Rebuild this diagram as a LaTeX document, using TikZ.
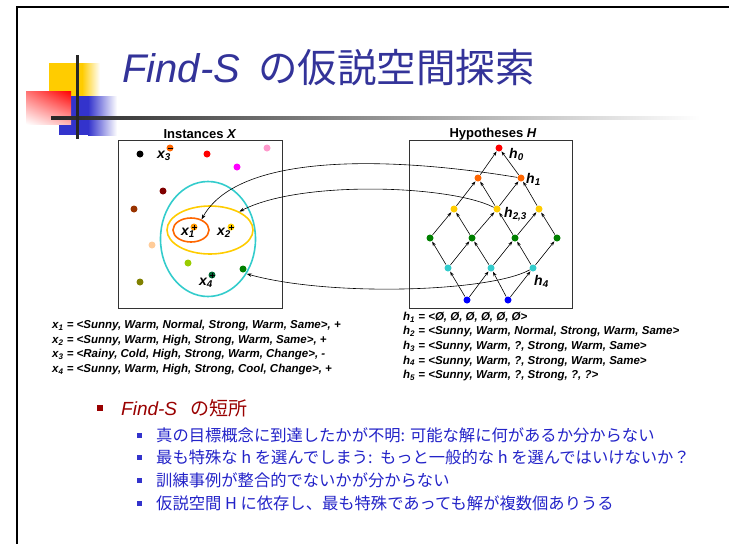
\documentclass[tikz,border=0pt]{standalone}
\usepackage{fontspec}
\setmainfont{Liberation Sans}
\newfontfamily\jp{Noto Sans CJK JP}
\usetikzlibrary{shapes.geometric,arrows.meta,shadings}
\definecolor{titleblue}{HTML}{333399}
\definecolor{subblue}{RGB}{35,35,200}
\definecolor{dred}{HTML}{990000}
\definecolor{decoyel}{HTML}{FFCC00}
\definecolor{decoblu}{HTML}{3333CC}
\definecolor{cRed}{HTML}{FF0000}
\definecolor{cOrange}{HTML}{FF6600}
\definecolor{cYellow}{HTML}{FFCC00}
\definecolor{cGreen}{HTML}{008000}
\definecolor{cCyan}{HTML}{33CCCC}
\definecolor{cBlue}{HTML}{0000FF}
\definecolor{cPink}{HTML}{FF99CC}
\definecolor{cMagenta}{HTML}{FF00FF}
\definecolor{cDarkRed}{HTML}{800000}
\definecolor{cBrown}{HTML}{993300}
\definecolor{cPeach}{HTML}{FFCC99}
\definecolor{cOlive}{HTML}{808000}
\definecolor{cLime}{HTML}{99CC00}
\definecolor{cDkGreen}{HTML}{006633}
\definecolor{cAmber}{HTML}{FF9900}
\begin{document}
\begin{tikzpicture}[x=1pt,y=-1pt,
  dot/.style={circle, inner sep=0pt, minimum size=7pt, draw=none},
  lat/.style={-{Stealth[length=4.5pt,width=3.2pt]}, line width=0.6pt, shorten >=0.5pt, shorten <=0.3pt},
  longarr/.style={-{Stealth[length=5pt,width=3.5pt]}, line width=0.6pt},
  lbl/.style={font=\fontsize{14}{14}\selectfont\bfseries\itshape, inner sep=0pt, anchor=base west},
  listline/.style={font=\fontsize{11.5}{13}\selectfont\bfseries\itshape, inner sep=0pt, anchor=west},
  boxlabel/.style={font=\fontsize{13}{13}\selectfont\bfseries, inner sep=0pt},
  subitem/.style={font=\jp\fontsize{16.3}{18}\selectfont, text=subblue, inner sep=0pt, anchor=west},
  sign/.style={line width=0.9pt, black}
]
\useasboundingbox (0,0) rectangle (729,544);
% slide frame
\draw[line width=2.4pt] (17,544) -- (17,7.2) -- (729,7.2);
% decoration
\fill[decoyel] (49,63) rectangle (82,97);
\shade[left color=decoyel, right color=white] (82,63) rectangle (100,97);
\fill[decoblu] (59,96) rectangle (88,135);
\shade[left color=decoblu, right color=white] (88,96) rectangle (117,135);
\shade[upper left=red!55, upper right=red, lower left=white, lower right=red!30] (26,91) rectangle (71,124);
\shade[left color=black!85, middle color=black!40, right color=white] (51,116.5) rectangle (700,119.5);
\fill[black!85] (75.5,55) rectangle (78.5,139);
% title
\node[anchor=base west, inner sep=0pt, text=titleblue] (title) at (122,82)
  {\fontsize{40}{40}\selectfont\itshape Find-S\upshape\hspace{18pt}{\jp\fontsize{39.5}{40}\selectfont の仮説空間探索}};

% ---------- Instances X ----------
\node[boxlabel] (ilabel) at (200,134) {Instances \textit{X}};
\node[draw=black!80, line width=0.8pt, minimum width=164pt, minimum height=168pt, inner sep=0pt] (ibox) at (200,224) {};
\node[ellipse, draw=cCyan, line width=1.6pt, minimum width=95pt, minimum height=115pt, inner sep=0pt] (ce) at (208,239) {};
\node[ellipse, draw=cYellow, line width=1.6pt, minimum width=86pt, minimum height=48pt, inner sep=0pt] (ye) at (210,230) {};
\node[ellipse, draw=cOrange, line width=1.6pt, minimum width=36pt, minimum height=24pt, inner sep=0pt] (oe) at (191,230) {};

\node[dot, fill=black] (d1) at (140,154) {};
\node[dot, fill=cRed] (d2) at (207,154) {};
\node[dot, fill=cPink] (d3) at (267,148) {};
\node[dot, fill=cMagenta] (d4) at (237,167) {};
\node[dot, fill=cDarkRed] (d5) at (163,191) {};
\node[dot, fill=cBrown] (d6) at (134,209) {};
\node[dot, fill=cPeach] (d7) at (152,245) {};
\node[dot, fill=cOlive] (d8) at (140,282) {};
\node[dot, fill=cLime] (d9) at (188,263) {};
\node[dot, fill=cGreen] (d10) at (243,269) {};

% labelled instances
\node[lbl] (x3l) at (157,158) {x\textsubscript{3}};
\node[dot, fill=cOrange] (x3) at (170,148) {};
\draw[sign] ([xshift=-2.5pt]x3.center) -- ([xshift=2.5pt]x3.center);
\node[lbl] (x1l) at (181,235) {x\textsubscript{1}};
\node[dot, fill=cAmber] (x1) at (194,227) {};
\draw[sign] ([xshift=-2.5pt]x1.center) -- ([xshift=2.5pt]x1.center) ([yshift=-2.5pt]x1.center) -- ([yshift=2.5pt]x1.center);
\node[lbl] (x2l) at (217,235) {x\textsubscript{2}};
\node[dot, fill=cYellow] (x2) at (231,227) {};
\draw[sign] ([xshift=-2.5pt]x2.center) -- ([xshift=2.5pt]x2.center) ([yshift=-2.5pt]x2.center) -- ([yshift=2.5pt]x2.center);
\node[lbl] (x4l) at (199,285) {x\textsubscript{4}};
\node[dot, fill=cDkGreen] (x4) at (212,275) {};
\draw[sign] ([xshift=-2.5pt]x4.center) -- ([xshift=2.5pt]x4.center) ([yshift=-2.5pt]x4.center) -- ([yshift=2.5pt]x4.center);

% ---------- Hypotheses H ----------
\node[boxlabel] (hlabel) at (493,134) {Hypotheses \textit{H}};
\node[draw=black!80, line width=0.8pt, minimum width=163pt, minimum height=168pt, inner sep=0pt] (hbox) at (490.5,224) {};

\node[dot, fill=cRed] (n00) at (499,148) {};
\node[dot, fill=cOrange] (n10) at (478,178) {};
\node[dot, fill=cOrange] (n11) at (521,178) {};
\node[dot, fill=cYellow] (n20) at (454,209) {};
\node[dot, fill=cYellow] (n21) at (497,209) {};
\node[dot, fill=cYellow] (n22) at (539,209) {};
\node[dot, fill=cGreen] (n30) at (430,238) {};
\node[dot, fill=cGreen] (n31) at (472,238) {};
\node[dot, fill=cGreen] (n32) at (515,238) {};
\node[dot, fill=cGreen] (n33) at (557,238) {};
\node[dot, fill=cCyan] (n40) at (448,268) {};
\node[dot, fill=cCyan] (n41) at (491,268) {};
\node[dot, fill=cCyan] (n42) at (533,268) {};
\node[dot, fill=cBlue] (n50) at (467,300) {};
\node[dot, fill=cBlue] (n51) at (508,300) {};

\foreach \a/\b in {n50/n40,n50/n41,n51/n41,n51/n42,
  n40/n30,n40/n31,n41/n31,n41/n32,n42/n32,n42/n33,
  n30/n20,n31/n20,n31/n21,n32/n21,n32/n22,n33/n22,
  n20/n10,n21/n10,n21/n11,n22/n11,n10/n00,n11/n00}
  \draw[lat] (\a) -- (\b);

\node[lbl] (h0l) at (509,158) {h\textsubscript{0}};
\node[lbl] (h1l) at (526,183) {h\textsubscript{1}};
\node[lbl] (h23l) at (504,217) {h\textsubscript{2,3}};
\node[lbl] (h4l) at (534,285) {h\textsubscript{4}};

% long connectors
\draw[longarr] (n11) .. controls (400,158) and (240,150) .. (oe.45);
\draw[longarr] (n21) .. controls (450,185) and (300,180) .. (ye.32);
\draw[longarr] (n42) .. controls (490,292) and (330,297) .. (ce.-42);

% lists
\node[listline] (xa) at (52,326) {x\textsubscript{1} = <Sunny, Warm, Normal, Strong, Warm, Same>, +};
\node[listline] (xb) at (52,340.5) {x\textsubscript{2} = <Sunny, Warm, High, Strong, Warm, Same>, +};
\node[listline] (xc) at (52,355) {x\textsubscript{3} = <Rainy, Cold, High, Strong, Warm, Change>, -};
\node[listline] (xd) at (52,369.5) {x\textsubscript{4} = <Sunny, Warm, High, Strong, Cool, Change>, +};

\node[listline] (ha) at (403,317) {h\textsubscript{1} = <Ø, Ø, Ø, Ø, Ø, Ø>};
\node[listline] (hb) at (403,331.7) {h\textsubscript{2} = <Sunny, Warm, Normal, Strong, Warm, Same>};
\node[listline] (hc) at (403,346.4) {h\textsubscript{3} = <Sunny, Warm, ?, Strong, Warm, Same>};
\node[listline] (hd) at (403,361.1) {h\textsubscript{4} = <Sunny, Warm, ?, Strong, Warm, Same>};
\node[listline] (he) at (403,375.8) {h\textsubscript{5} = <Sunny, Warm, ?, Strong, ?, ?>};

% bullets
\fill[dred] (97,405) rectangle (103,411);
\node[anchor=west, inner sep=0pt, text=dred] (b0) at (121,408)
  {\fontsize{19}{19}\selectfont\itshape Find-S\upshape\hspace{13pt}{\jp の短所}};
\foreach \yy in {435,457.5,480,503}
  \fill[decoblu] (136.5,\yy-2.5) rectangle (141.5,\yy+2.5);
\node[subitem] (s1) at (156,435) {真の目標概念に到達したかが不明: 可能な解に何があるか分からない};
\node[subitem] (s2) at (156,457.5) {最も特殊な h を選んでしまう:\ \ もっと一般的な h を選んではいけないか？};
\node[subitem] (s3) at (156,480) {訓練事例が整合的でないかが分からない};
\node[subitem] (s4) at (156,503) {仮説空間 H に依存し、最も特殊であっても解が複数個ありうる};
\end{tikzpicture}
\end{document}
